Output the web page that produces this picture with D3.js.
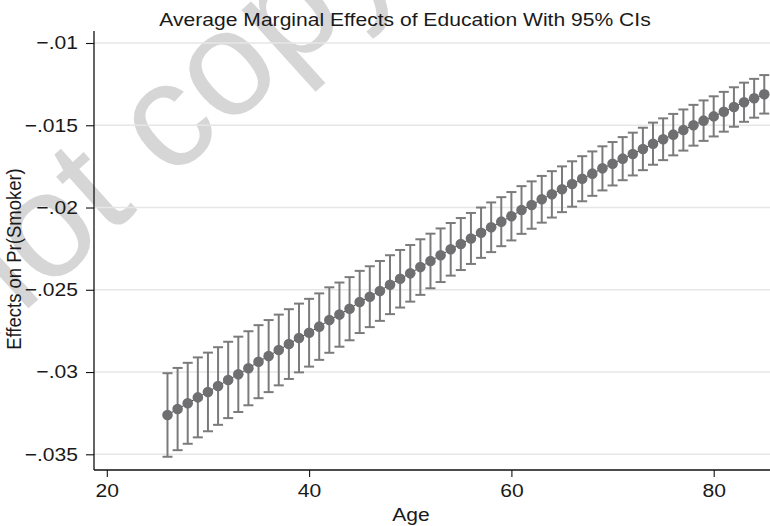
<!DOCTYPE html>
<html>
<head>
<meta charset="utf-8">
<script src="https://cdn.jsdelivr.net/npm/d3@7"></script>
<style>
  html, body { margin: 0; padding: 0; background: #fff; }
  svg { display: block; font-family: "Liberation Sans", Arial, Helvetica, sans-serif; }
</style>
</head>
<body>
<svg id="chart" width="770" height="526"></svg>
<script>
// Ages at which the average marginal effect of education was evaluated
const ages = d3.range(26, 86);

// Average marginal effect of education on Pr(Smoker), by age
const margins = [
  -0.03261, -0.03225, -0.03190, -0.03154, -0.03121, -0.03085, -0.03048, -0.03014, -0.02977, -0.02937,
  -0.02903, -0.02866, -0.02830, -0.02793, -0.02761, -0.02724, -0.02684, -0.02651, -0.02615, -0.02574,
  -0.02542, -0.02507, -0.02469, -0.02433, -0.02400, -0.02362, -0.02325, -0.02290, -0.02254, -0.02222,
  -0.02188, -0.02153, -0.02120, -0.02086, -0.02053, -0.02015, -0.01985, -0.01950, -0.01920, -0.01889,
  -0.01857, -0.01825, -0.01794, -0.01762, -0.01734, -0.01703, -0.01675, -0.01644, -0.01612, -0.01585,
  -0.01557, -0.01529, -0.01500, -0.01472, -0.01446, -0.01418, -0.01389, -0.01360, -0.01336, -0.01312
];

// Half-width of the 95% confidence interval at each age
const ciHalf = [
  0.00254, 0.00250, 0.00246, 0.00243, 0.00239, 0.00236, 0.00232, 0.00229, 0.00225, 0.00222,
  0.00219, 0.00215, 0.00212, 0.00209, 0.00206, 0.00202, 0.00199, 0.00195, 0.00192, 0.00189,
  0.00185, 0.00182, 0.00179, 0.00175, 0.00172, 0.00169, 0.00166, 0.00163, 0.00160, 0.00158,
  0.00155, 0.00153, 0.00151, 0.00149, 0.00147, 0.00145, 0.00144, 0.00142, 0.00141, 0.00139,
  0.00138, 0.00137, 0.00135, 0.00134, 0.00132, 0.00131, 0.00130, 0.00129, 0.00128, 0.00127,
  0.00126, 0.00125, 0.00124, 0.00123, 0.00122, 0.00121, 0.00120, 0.00119, 0.00118, 0.00117
];

const xTicks = [20, 40, 60, 80];
const yTicks = [-0.035, -0.03, -0.025, -0.02, -0.015, -0.01];
const yTickLabels = ["\u2212.035", "\u2212.03", "\u2212.025", "\u2212.02", "\u2212.015", "\u2212.01"];

const titleText = "Average Marginal Effects of Education With 95% CIs";
const xTitle = "Age";
const yTitle = "Effects on Pr(Smoker)";

const data = ages.map((a, i) => ({
  age: a, m: margins[i], lo: margins[i] - ciHalf[i], hi: margins[i] + ciHalf[i]
}));

const svg = d3.select("#chart");

// Plot frame
const frame = { left: 94, right: 770, top: 31, bottom: 470 };

const x = d3.scaleLinear().domain([20, 80]).range([106.8, 713.7]);
const y = d3.scaleLinear().domain([-0.035, -0.01]).range([454.3, 43]);

const markColor = "#6f6f71";
const barColor = "#7b7b7d";
const fontSize = 18.5;
const widen = 1.14;   // horizontal widening of the lettering

// Watermark behind the plot
svg.append("text")
  .attr("transform", "translate(-190,505) rotate(-42)")
  .attr("font-size", 150)
  .attr("fill", "#d6d6d6")
  .text("Do not copy");

// Horizontal gridlines
svg.append("g").selectAll("line")
  .data(yTicks)
  .join("line")
  .attr("x1", frame.left).attr("x2", frame.right)
  .attr("y1", d => y(d)).attr("y2", d => y(d))
  .attr("stroke", "#e6e6e6")
  .attr("stroke-width", 1.6);

// Y axis
const yAxis = d3.axisLeft(y)
  .tickValues(yTicks)
  .tickFormat((d, i) => yTickLabels[i])
  .tickSize(8)
  .tickPadding(8);
const gy = svg.append("g").attr("transform", `translate(${frame.left},0)`).call(yAxis);
gy.select(".domain").remove();
gy.append("line").attr("x1", 0).attr("x2", 0).attr("y1", frame.top).attr("y2", frame.bottom)
  .attr("stroke", "#111").attr("stroke-width", 1.3);
gy.selectAll(".tick line").attr("stroke", "#111").attr("stroke-width", 1.1);
gy.selectAll(".tick text")
  .attr("font-size", fontSize).attr("fill", "#1a1a1a")
  .attr("font-family", "Liberation Sans, Arial, sans-serif")
  .attr("x", -16 / widen)
  .attr("transform", `scale(${widen},1)`);

// X axis
const xAxis = d3.axisBottom(x)
  .tickValues(xTicks)
  .tickFormat(d3.format("d"))
  .tickSize(7)
  .tickPadding(7);
const gx = svg.append("g").attr("transform", `translate(0,${frame.bottom})`).call(xAxis);
gx.select(".domain").remove();
gx.append("line").attr("x1", frame.left).attr("x2", frame.right).attr("y1", 0).attr("y2", 0)
  .attr("stroke", "#111").attr("stroke-width", 1.3);
gx.selectAll(".tick line").attr("stroke", "#111").attr("stroke-width", 1.1);
gx.selectAll(".tick text")
  .attr("font-size", fontSize).attr("fill", "#1a1a1a")
  .attr("font-family", "Liberation Sans, Arial, sans-serif")
  .attr("transform", `scale(${widen},1)`);

// Confidence interval bars with caps
const bars = svg.append("g").attr("stroke", barColor).attr("stroke-width", 2);
bars.selectAll("line.ci")
  .data(data).join("line").attr("class", "ci")
  .attr("x1", d => x(d.age)).attr("x2", d => x(d.age))
  .attr("y1", d => y(d.lo)).attr("y2", d => y(d.hi));
bars.selectAll("line.capHi")
  .data(data).join("line").attr("class", "capHi")
  .attr("x1", d => x(d.age) - 5).attr("x2", d => x(d.age) + 5)
  .attr("y1", d => y(d.hi)).attr("y2", d => y(d.hi));
bars.selectAll("line.capLo")
  .data(data).join("line").attr("class", "capLo")
  .attr("x1", d => x(d.age) - 5).attr("x2", d => x(d.age) + 5)
  .attr("y1", d => y(d.lo)).attr("y2", d => y(d.lo));

// Connecting line through the estimates
svg.append("path")
  .datum(data)
  .attr("fill", "none")
  .attr("stroke", "#3a3a3c")
  .attr("stroke-width", 1)
  .attr("d", d3.line().x(d => x(d.age)).y(d => y(d.m)));

// Point estimates
svg.append("g").selectAll("circle")
  .data(data).join("circle")
  .attr("cx", d => x(d.age)).attr("cy", d => y(d.m))
  .attr("r", 5.3)
  .attr("fill", markColor);

// Titles
svg.append("text")
  .attr("transform", `translate(405,26) scale(${widen},1)`)
  .attr("text-anchor", "middle")
  .attr("font-size", fontSize).attr("fill", "#1a1a1a")
  .text(titleText);

svg.append("text")
  .attr("transform", `translate(411,521) scale(${widen},1)`)
  .attr("text-anchor", "middle")
  .attr("font-size", fontSize).attr("fill", "#1a1a1a")
  .text(xTitle);

svg.append("text")
  .attr("transform", `translate(21,259) scale(${widen},1) rotate(-90)`)
  .attr("text-anchor", "middle")
  .attr("font-size", fontSize).attr("fill", "#1a1a1a")
  .text(yTitle);
</script>
</body>
</html>
